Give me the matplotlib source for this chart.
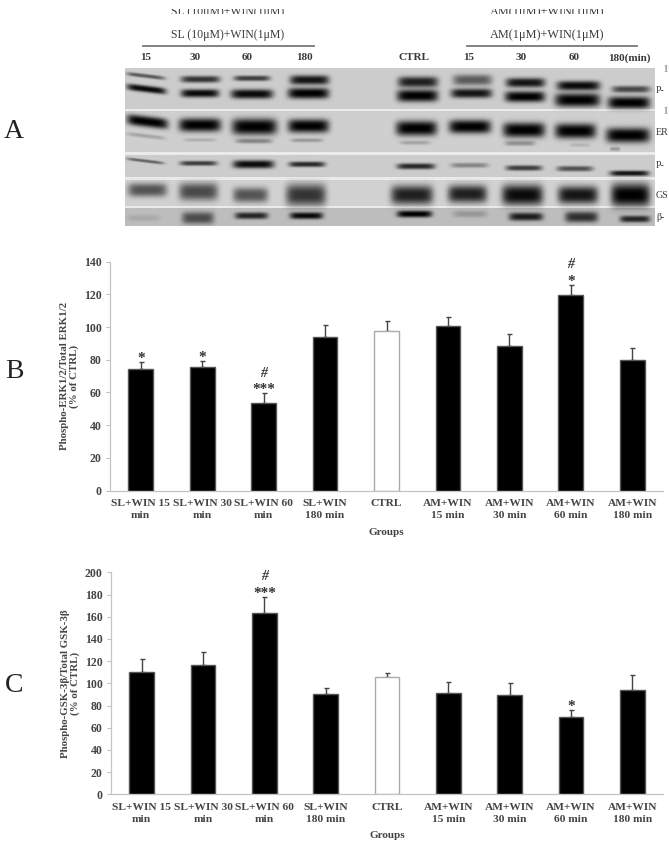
import numpy as np
import matplotlib
matplotlib.use('Agg')
import matplotlib.pyplot as plt
from matplotlib.patches import Rectangle

# Bar chart values
groups = ['SL+WIN 15\nmin', 'SL+WIN 30\nmin', 'SL+WIN 60\nmin', 'SL+WIN\n180 min', 'CTRL',
          'AM+WIN\n15 min', 'AM+WIN\n30 min', 'AM+WIN\n60 min', 'AM+WIN\n180 min']
erk_mean = [74.3, 75.5, 53.3, 93.7, 97.8, 100.6, 88.2, 119.6, 80.0]
erk_err = [4.1, 3.5, 6.1, 7.5, 6.2, 5.4, 7.8, 6.4, 7.5]
gsk_mean = [110.2, 116.8, 163.0, 90.4, 105.4, 91.6, 89.2, 70.0, 94.0]
gsk_err = [11.4, 11.4, 14.8, 5.4, 3.9, 9.6, 10.8, 5.7, 13.2]
erk_stars = ['*', '*', '***', '', '', '', '', '*', '']
erk_hash = ['', '', '#', '', '', '', '', '#', '']
gsk_stars = ['', '', '***', '', '', '', '', '*', '']
gsk_hash = ['', '', '#', '', '', '', '', '', '']
erk_ticks = [0, 20, 40, 60, 80, 100, 120, 140]
gsk_ticks = [0, 20, 40, 60, 80, 100, 120, 140, 160, 180, 200]

# Blot strips, picture rows
strip_top = [68.3, 111, 154.7, 180, 208.3]
strip_bottom = [109.3, 151.7, 177.3, 205.7, 225.7]
strip_grey = [0.80, 0.81, 0.80, 0.82, 0.74]

# Blot bands, one entry per band
band_x0 = [127, 127, 181, 181, 234, 231, 290, 288, 398, 397, 453, 451, 506, 505, 557, 555, 612, 608,
           127, 127, 179, 184, 232, 236, 288, 291, 396, 400, 449, 503, 505, 555, 570, 606, 610,
           127, 180, 233, 289, 397, 451, 506, 557, 610,
           128, 179, 233, 286, 391, 448, 502, 558, 611,
           127, 182, 235, 290, 397, 453, 509, 565, 620]
band_x1 = [165, 166, 220, 219, 270, 273, 329, 329, 438, 438, 492, 492, 545, 545, 600, 600, 650, 650,
           168, 165, 221, 216, 277, 272, 329, 323, 437, 430, 491, 545, 535, 596, 590, 650, 620,
           164, 217, 274, 325, 435, 488, 542, 593, 649,
           167, 218, 268, 326, 433, 487, 543, 598, 650,
           160, 214, 268, 323, 432, 487, 543, 598, 650]
band_y = [76, 89, 79.3, 93.3, 78.3, 94, 80, 93.3, 82, 95.7, 80, 93.3, 82.7, 96.7, 85.7, 100, 89.3, 102.7,
          121.7, 136, 125, 140, 126.7, 141, 126, 140.3, 128.3, 142.7, 126.7, 130, 143.3, 131, 145, 135.3, 149,
          161, 163.3, 164.3, 164.3, 166.3, 165.3, 168, 168.7, 173.3,
          190, 191.7, 195, 195, 195, 194, 195, 195, 195,
          218, 218, 215.7, 215.7, 214, 214, 216.7, 217, 219]
band_h = [1.5, 2.5, 2.5, 3, 2, 3.5, 3.5, 4, 4, 4.5, 4, 3.5, 3.5, 4, 3.5, 5, 2.5, 4.5,
          4, 1.5, 5, 1.3, 6, 1.8, 5, 1.5, 5.5, 1.5, 5, 5.5, 1.8, 5.5, 1.3, 5.5, 1.5,
          1.2, 1.8, 3, 2, 2.2, 1.8, 2, 2, 2,
          5, 6.5, 5.5, 8, 7, 6.5, 7.5, 6.5, 8.5,
          2.5, 4.5, 2.5, 2.5, 2.5, 2.5, 3, 4, 2.5]
band_dark = [.55, .95, .75, .95, .7, .95, .9, 1, .85, 1, .55, .9, .9, 1, .95, 1, .65, 1,
             1, .2, 1, .15, 1, .35, 1, .25, 1, .2, 1, 1, .3, 1, .12, 1, .25,
             .5, .7, .95, .8, .8, .35, .7, .6, .9,
             .6, .65, .6, .75, .85, .85, .95, .9, 1,
             .1, .6, .8, .95, 1, .2, .85, .75, .8]
# the first lane runs downhill to the right
tilted_bands = [0, 1, 18, 19, 35]

lane_x = [146, 195, 247, 304, 414, 469, 521, 574, 629]
lane_names = ['15', '30', '60', '180', 'CTRL', '15', '30', '60', '180(min)']
blot_names = ['P-', 'ER', 'P-', 'GS', '\u03b2-']
blot_name_y = [90.5, 132.5, 165.5, 195.5, 218]

serif = 'Liberation Serif'
plt.rcParams['font.family'] = serif
plt.rcParams['font.weight'] = 'bold'

W, H = 669, 848
fig = plt.figure(figsize=(W / 100, H / 100), dpi=100)

# page axes in picture pixels, for panel A and the letters
page = fig.add_axes([0, 0, 1, 1])
page.set_xlim(0, W)
page.set_ylim(H, 0)
page.axis('off')

# build the blot as an image, one pixel per picture pixel
bx0, bx1, by0, by1 = 125, 655, 68, 226
xx, yy = np.meshgrid(np.arange(bx0, bx1) + .5, np.arange(by0, by1) + .5)
base = np.full(xx.shape, 0.92)
for t, b, g in zip(strip_top, strip_bottom, strip_grey):
    base[(yy >= t) & (yy <= b)] = g
keep = np.ones(xx.shape)
for i, (x0, x1, y, h, d) in enumerate(zip(band_x0, band_x1, band_y, band_h, band_dark)):
    xc, xw = (x0 + x1) / 2, (x1 - x0) / 2
    slope = 0.12 if i in tilted_bands else 0
    yc = y + slope * (xx - xc)
    keep *= 1 - d * np.exp(-np.abs((xx - xc) / xw) ** 6) * np.exp(-np.abs((yy - yc) / (h * 1.35)) ** 2.6)
blot = base * keep
page.imshow(blot, cmap='gray', vmin=0, vmax=1, extent=(bx0, bx1, by1, by0), aspect='auto',
            interpolation='bilinear', zorder=1)
page.set_xlim(0, W)
page.set_ylim(H, 0)

ink = '#3a3a3a'
page.plot([142.5, 313.5], [46, 46], color='#777777', lw=1.3)
page.plot([467, 637], [46, 46], color='#777777', lw=1.3)
page.text(228, 35, 'SL (10\u03bcM)+WIN(1\u03bcM)', ha='center', va='center', fontsize=8.5, color=ink, weight='normal')
page.text(547, 35, 'AM(1\u03bcM)+WIN(1\u03bcM)', ha='center', va='center', fontsize=8.8, color=ink, weight='normal')

# the sliced heading at the very top of the picture
slice_box = Rectangle((100, 9), 560, 4.5, transform=page.transData)
for x, s, fs in zip([228, 547], ['SL (10\u03bcM)+WIN(1\u03bcM)', 'AM(1\u03bcM)+WIN(1\u03bcM)'], [8.5, 8.8]):
    t = page.text(x, 12.5, s, ha='center', va='center', fontsize=fs, color=ink, weight='normal')
    t.set_clip_path(slice_box)
    t.set_clip_on(True)

for x, s in zip(lane_x, lane_names):
    page.text(x, 58, s, ha='center', va='center', fontsize=8, color=ink)
for y, s in zip(blot_name_y, blot_names):
    page.text(656, y, s, ha='left', va='center', fontsize=7.2, color=ink, weight='normal')
for y in [70, 112]:
    page.text(664, y, 'I', ha='left', va='center', fontsize=8, color='#aaaaaa')

for y, s in zip([132, 372, 685], ['A', 'B', 'C']):
    page.text(14, y, s, ha='center', va='center', fontsize=20, color='#222222', weight='normal')


def bar_panel(left, right, y0, ytop, means, errs, ticks, top, ylabel, stars, hashes):
    ax = fig.add_axes([left / W, 1 - y0 / H, (right - left) / W, (y0 - ytop) / H])
    ax.patch.set_alpha(0)
    x = np.arange(len(means))
    colors = ['white' if g == 'CTRL' else 'black' for g in groups]
    edges = ['#aaaaaa' if g == 'CTRL' else '#555555' for g in groups]
    ax.bar(x, means, width=0.405, color=colors, edgecolor=edges, linewidth=1.0, zorder=2)
    ax.errorbar(x, means, yerr=[np.zeros(len(errs)), errs], fmt='none', ecolor='#444444',
                elinewidth=1.0, capsize=1.8, capthick=1.0, zorder=1)
    ax.set_xlim(-0.5, len(means) - 0.5)
    ax.set_ylim(0, top)
    ax.set_yticks(ticks)
    ax.set_xticks(x)
    ax.set_xticklabels(groups, fontsize=8.2, color='#444444', linespacing=1.45)
    ax.tick_params(axis='x', length=0, pad=6)
    ax.tick_params(axis='y', length=3, width=0.7, color='#bbbbbb', labelsize=8.5, labelcolor='#444444', pad=3)
    for s in ['top', 'right']:
        ax.spines[s].set_visible(False)
    for s in ['left', 'bottom']:
        ax.spines[s].set_color('#c4c4c4')
        ax.spines[s].set_linewidth(0.9)
    ax.set_ylabel(ylabel, fontsize=7.8, color='#444444', linespacing=1.05, fontweight='bold')
    ax.yaxis.set_label_coords(-0.056, 0.5)
    ax.set_xlabel('Groups', fontsize=8, color='#444444', fontweight='bold')
    ax.xaxis.set_label_coords(0.5, -0.165)
    for i, (m, e, s, h) in enumerate(zip(means, errs, stars, hashes)):
        if s:
            ax.annotate(s, (i, m + e), xytext=(0, 0), textcoords='offset points', ha='center',
                        va='baseline', fontsize=11, color='#333333')
        if h:
            ax.annotate(h, (i, m + e), xytext=(0, 12), textcoords='offset points', ha='center',
                        va='baseline', fontsize=10, color='#333333', style='italic')
    return ax


bar_panel(110, 663, 490.5, 261.7, erk_mean, erk_err, erk_ticks, 140,
          'Phospho-ERK1/2/Total ERK1/2\n(% of CTRL)', erk_stars, erk_hash)
bar_panel(111, 663, 794.3, 572.3, gsk_mean, gsk_err, gsk_ticks, 200,
          'Phospho-GSK-3\u03b2/Total GSK-3\u03b2\n(% of CTRL)', gsk_stars, gsk_hash)

fig.savefig('out.png', dpi=100)
